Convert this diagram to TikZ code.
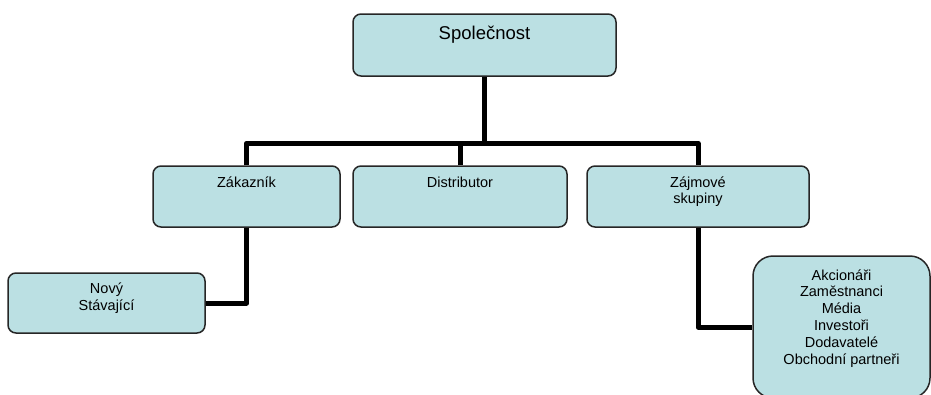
\documentclass[tikz,border=0pt]{standalone}
\usepackage{fontspec}
\setmainfont{Liberation Sans}
\definecolor{boxfill}{HTML}{BBE0E3}
% top aligned, centred lines inside a box of fixed size
\newcommand{\boxlines}[4]{\parbox[t][#2][t]{#1}{\centering\vspace*{#3}\strut #4}}

\begin{document}
\begin{tikzpicture}[x=1pt, y=-1pt, line width=1.5pt, line join=round,
    orgbox/.style={draw=black!85, fill=boxfill, rounded corners=8pt, inner sep=0pt,
      font=\fontsize{14.5}{16.8}\selectfont},
    conn/.style={line width=5pt, black}]
  \useasboundingbox (0,0) rectangle (931,394);
  \clip (0,0) rectangle (931,394);
  % boxes
  \node[orgbox, font=\fontsize{18.5}{22}\selectfont] (soc) at (484.5,45)
    {\boxlines{263pt}{62pt}{9.6pt}{Společnost}};
  \node[orgbox] (zak) at (246.5,196.5) {\boxlines{187pt}{61pt}{9.3pt}{Zákazník}};
  \node[orgbox] (dist) at (460,196.5) {\boxlines{214pt}{61pt}{9.3pt}{Distributor}};
  \node[orgbox] (zaj) at (698,196.5) {\boxlines{222pt}{61pt}{9.3pt}{Zájmové\\skupiny}};
  \node[orgbox] (nov) at (106.5,303) {\boxlines{197pt}{60pt}{8.6pt}{Nový\\Stávající}};
  \node[orgbox, rounded corners=20pt] (skup) at (841.5,327)
    {\boxlines{177pt}{142pt}{12.3pt}{Akcionáři\\Zaměstnanci\\Média\\Investoři\\Dodavatelé\\Obchodní partneři}};
  % connectors
  \draw[conn] (zak.north) -- ++(0,-22) coordinate (bus) -| (zaj.north);
  \draw[conn] (soc.south) -- (soc.south |- bus);
  \draw[conn] (dist.north) -- (dist.north |- bus);
  \draw[conn] (zak.south) |- (nov.east);
  \draw[conn] (zaj.south) |- (skup.west);
\end{tikzpicture}
\end{document}
